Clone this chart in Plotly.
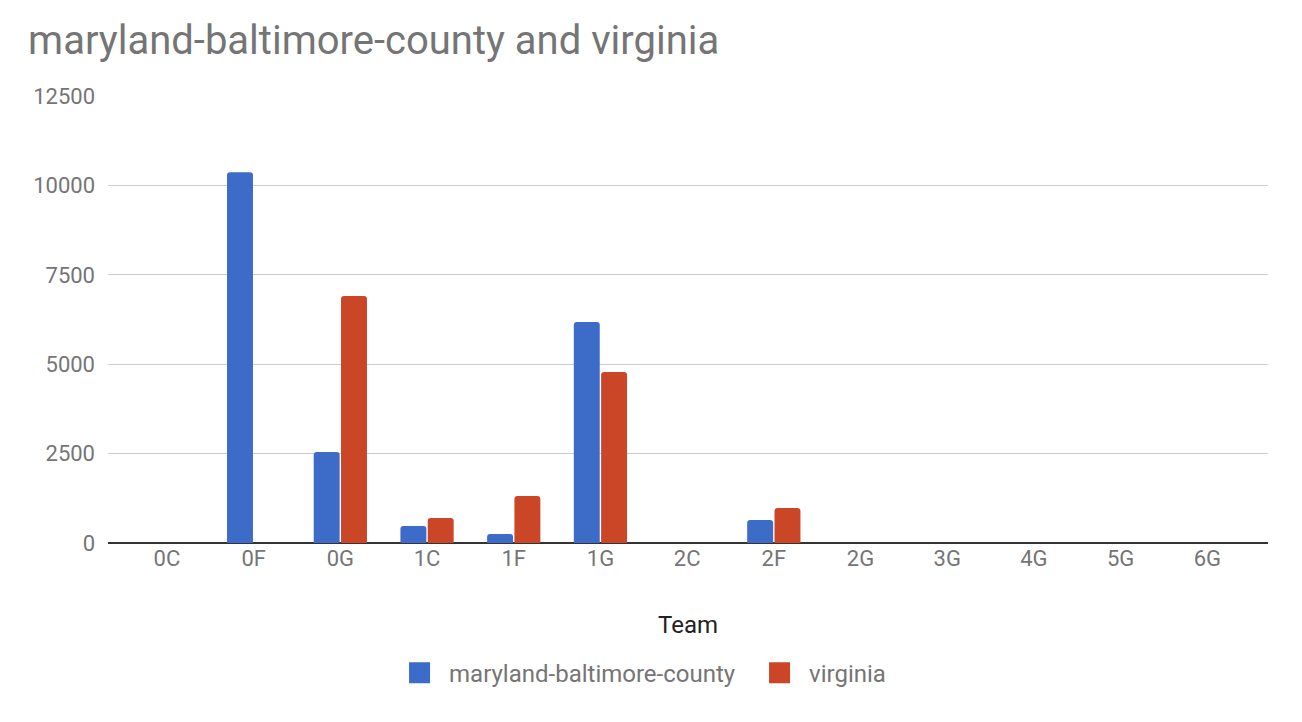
import plotly.graph_objects as go

teams = ["0C", "0F", "0G", "1C", "1F", "1G", "2C", "2F", "2G", "3G", "4G", "5G", "6G"]
maryland = [0, 10370, 2545, 475, 250, 6180, 0, 643, 0, 0, 0, 0, 0]
virginia = [0, 0, 6907, 700, 1315, 4782, 0, 980, 0, 0, 0, 0, 0]
series_names = ["maryland-baltimore-county", "virginia"]
colors = ["#3d6bc8", "#cb4627"]

fig = go.Figure()
for name, vals, col in zip(series_names, [maryland, virginia], colors):
    fig.add_trace(go.Bar(x=teams, y=vals, name=name, showlegend=False,
                         marker=dict(color=col, line=dict(width=0), cornerradius=3)))
# legend entries with square swatches
for name, col in zip(series_names, colors):
    fig.add_trace(go.Scatter(x=[None], y=[None], mode="markers", name=name,
                             marker=dict(symbol="square", size=16, color=col,
                                         line=dict(color=col, width=5))))

fig.update_layout(
    width=1286, height=706,
    paper_bgcolor="white", plot_bgcolor="white",
    font=dict(family="Roboto", color="#757575"),
    title=dict(text="maryland-baltimore-county and virginia", x=0.0156, xanchor="left",
               y=0.955, yanchor="middle", font=dict(size=40, color="#757575")),
    margin=dict(l=100, r=26, t=88, b=171),
    barmode="group", bargap=0.37, bargroupgap=0.05,
    showlegend=True,
    legend=dict(orientation="h", x=0.5535, xanchor="center", y=-0.291, yanchor="middle",
                font=dict(size=24, color="#757575"), itemwidth=49, entrywidth=296),
    xaxis=dict(range=[-0.68, 12.7], showgrid=False, ticks="",
               tickfont=dict(size=22, color="#757575"),
               title=dict(text="Team", font=dict(size=24, color="#222222"), standoff=46),
               showline=False),
    yaxis=dict(range=[0, 12500], tickvals=[0, 2500, 5000, 7500, 10000, 12500],
               ticktext=["0", "2500", "5000", "7500", "10000", "12500"],
               showgrid=True, gridcolor="#cccccc", gridwidth=1,
               zeroline=True, zerolinecolor="#333333", zerolinewidth=2,
               tickfont=dict(size=22, color="#757575"), ticks="", ticklabelstandoff=12),
)

fig.write_html("out.html")
